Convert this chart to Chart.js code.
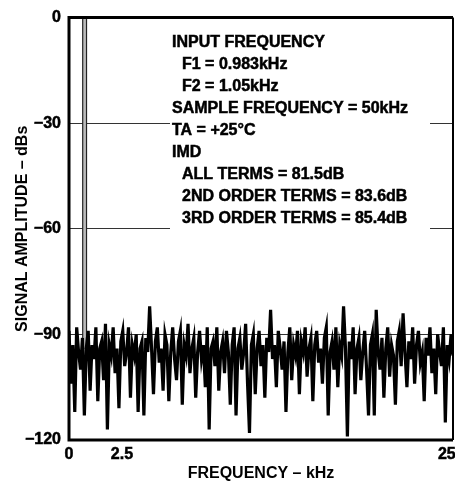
<!DOCTYPE html>
<html>
<head>
<meta charset="utf-8">
<script src="https://cdn.jsdelivr.net/npm/chart.js@4/dist/chart.umd.min.js"></script>
<style>
  html, body { margin: 0; padding: 0; background: #fff; overflow: hidden; }
  #wrap { width: 468px; height: 487px; position: relative; }
</style>
</head>
<body>
<div id="wrap"><canvas id="imdChart"></canvas></div>
<script>
// FFT bins, 0 to 25 kHz
const binWidth = 0.125
const noiseDb = [
  -89, -104, -93, -112, -88, -95, -100, -91, -113, -94, -89, -106, -93, -97, -88, -109, -94, -92, -103, -87,
  -117, -93, -96, -88, -101, -94, -111, -92, -89, -99, -95, -88, -108, -93, -96, -90, -112, -94, -92, -113,
  -91, -95, -82, -94, -107, -92, -88, -98, -94, -106, -90, -93, -109, -95, -88, -97, -103, -92, -89, -110,
  -93, -96, -87, -101, -94, -91, -108, -95, -89, -97, -93, -105, -88, -117, -94, -92, -99, -88, -106, -95,
  -92, -101, -89, -95, -110, -93, -88, -113, -94, -91, -100, -95, -87, -104, -118, -93, -90, -107, -94, -89,
  -99, -93, -108, -91, -95, -83, -97, -93, -105, -89, -94, -100, -92, -112, -95, -88, -103, -93, -96, -89,
  -107, -92, -95, -88, -102, -94, -91, -109, -93, -89, -98, -94, -104, -91, -88, -113, -95, -92, -100, -88,
  -105, -93, -96, -82, -94, -119, -92, -97, -88, -107, -94, -91, -103, -95, -89, -100, -113, -93, -90, -113,
  -83, -95, -100, -91, -108, -94, -88, -102, -93, -96, -110, -92, -89, -99, -84, -95, -105, -92, -97, -88,
  -104, -93, -89, -98, -95, -109, -91, -96, -88, -101, -94, -107, -90, -95, -99, -88, -115, -93, -97, -90, -96
]

// the two input tones
const toneFreq = [0.983, 0.983, 1.05, 1.05]
const toneDb = [-94, 0, 0, -94]

const yTicks = [0, -30, -60, -90, -120]
// label spots as printed on the original sheet
const xTickValues = [0, 3.45, 24.6]
const xTickLabels = ['0', '2.5', '25']

const noteLines = [
  'INPUT FREQUENCY',
  '  F1 = 0.983kHz',
  '  F2 = 1.05kHz',
  'SAMPLE FREQUENCY = 50kHz',
  'TA = +25°C',
  'IMD',
  '  ALL TERMS = 81.5dB',
  '  2ND ORDER TERMS = 83.6dB',
  '  3RD ORDER TERMS = 85.4dB'
]

const FONT = 'Arial'

const noisePoints = noiseDb.map((v, i) => ({x: i * binWidth, y: v}))
const tonePoints = toneFreq.map((f, i) => ({x: f, y: toneDb[i]}))

const notesPlugin = {
  id: 'notes',
  afterDatasetsDraw(chart) {
    const ctx = chart.ctx
    ctx.save()
    ctx.fillStyle = '#fff'
    ctx.fillRect(170, 28, 260, 204)
    ctx.fillStyle = '#000'
    ctx.strokeStyle = '#000'
    ctx.lineWidth = 0.5
    ctx.font = '700 16px ' + FONT
    ctx.textBaseline = 'middle'
    noteLines.forEach((line, i) => {
      const indent = line.startsWith('  ') ? 10 : 0
      ctx.fillText(line.trim(), 172 + indent, 43 + i * 21.9)
      ctx.strokeText(line.trim(), 172 + indent, 43 + i * 21.9)
    })
    ctx.restore()
  },
  afterDraw(chart) {
    const {left, top, right, bottom} = chart.chartArea
    const ctx = chart.ctx
    ctx.save()
    ctx.strokeStyle = '#000'
    ctx.lineWidth = 3
    ctx.beginPath()
    ctx.moveTo(right, top)
    ctx.lineTo(left, top)
    ctx.lineTo(left, bottom)
    ctx.lineTo(right, bottom)
    ctx.stroke()
    ctx.lineWidth = 2
    ctx.beginPath()
    ctx.moveTo(right, top)
    ctx.lineTo(right, bottom)
    ctx.stroke()
    ctx.restore()
  }
}

const tickFont = { family: FONT, size: 16, weight: 700 }

new Chart('imdChart', {
  type: 'line',
  data: {
    datasets: [{
      data: tonePoints,
      borderColor: '#222',
      borderWidth: 4,
      pointRadius: 0,
      tension: 0,
      order: 3
    }, {
      data: tonePoints,
      borderColor: '#bbb',
      borderWidth: 1.6,
      pointRadius: 0,
      tension: 0,
      order: 2
    }, {
      data: noisePoints,
      borderColor: '#000',
      borderWidth: 3.2,
      pointRadius: 0,
      tension: 0,
      order: 1
    }]
  },
  options: {
    responsive: true,
    maintainAspectRatio: false,
    animation: false,
    layout: {
      autoPadding: false,
      padding: {top: 12, right: 15, left: 0, bottom: 0}
    },
    plugins: {
      legend: { display: false },
      tooltip: { enabled: false }
    },
    scales: {
      x: {
        type: 'linear',
        min: 0,
        max: 25,
        afterFit: s => { s.height = 47 },
        afterBuildTicks: s => { s.ticks = xTickValues.map(v => ({value: v})) },
        grid: { display: false, drawTicks: false },
        border: { display: false },
        ticks: {
          color: '#000',
          padding: 5,
          maxRotation: 0,
          autoSkip: false,
          textStrokeColor: '#000',
          textStrokeWidth: 0.5,
          font: tickFont,
          callback: (v, i) => xTickLabels[i]
        },
        title: {
          display: true,
          text: 'FREQUENCY – kHz',
          color: '#000',
          padding: {top: 0, bottom: 4},
          font: tickFont
        }
      },
      y: {
        min: -120,
        max: 0,
        afterFit: s => { s.width = 69 },
        afterBuildTicks: s => { s.ticks = yTicks.map(v => ({value: v})) },
        grid: { color: '#333', lineWidth: 1, drawTicks: false },
        border: { display: false },
        ticks: {
          color: '#000',
          padding: 8,
          textStrokeColor: '#000',
          textStrokeWidth: 0.5,
          font: tickFont,
          callback: v => v === 0 ? '0' : '\u2212' + Math.abs(v)
        },
        title: {
          display: true,
          text: 'SIGNAL AMPLITUDE – dBs',
          color: '#000',
          padding: {top: 13, bottom: 0},
          font: tickFont
        }
      }
    }
  },
  plugins: [notesPlugin]
})
</script>
</body>
</html>
